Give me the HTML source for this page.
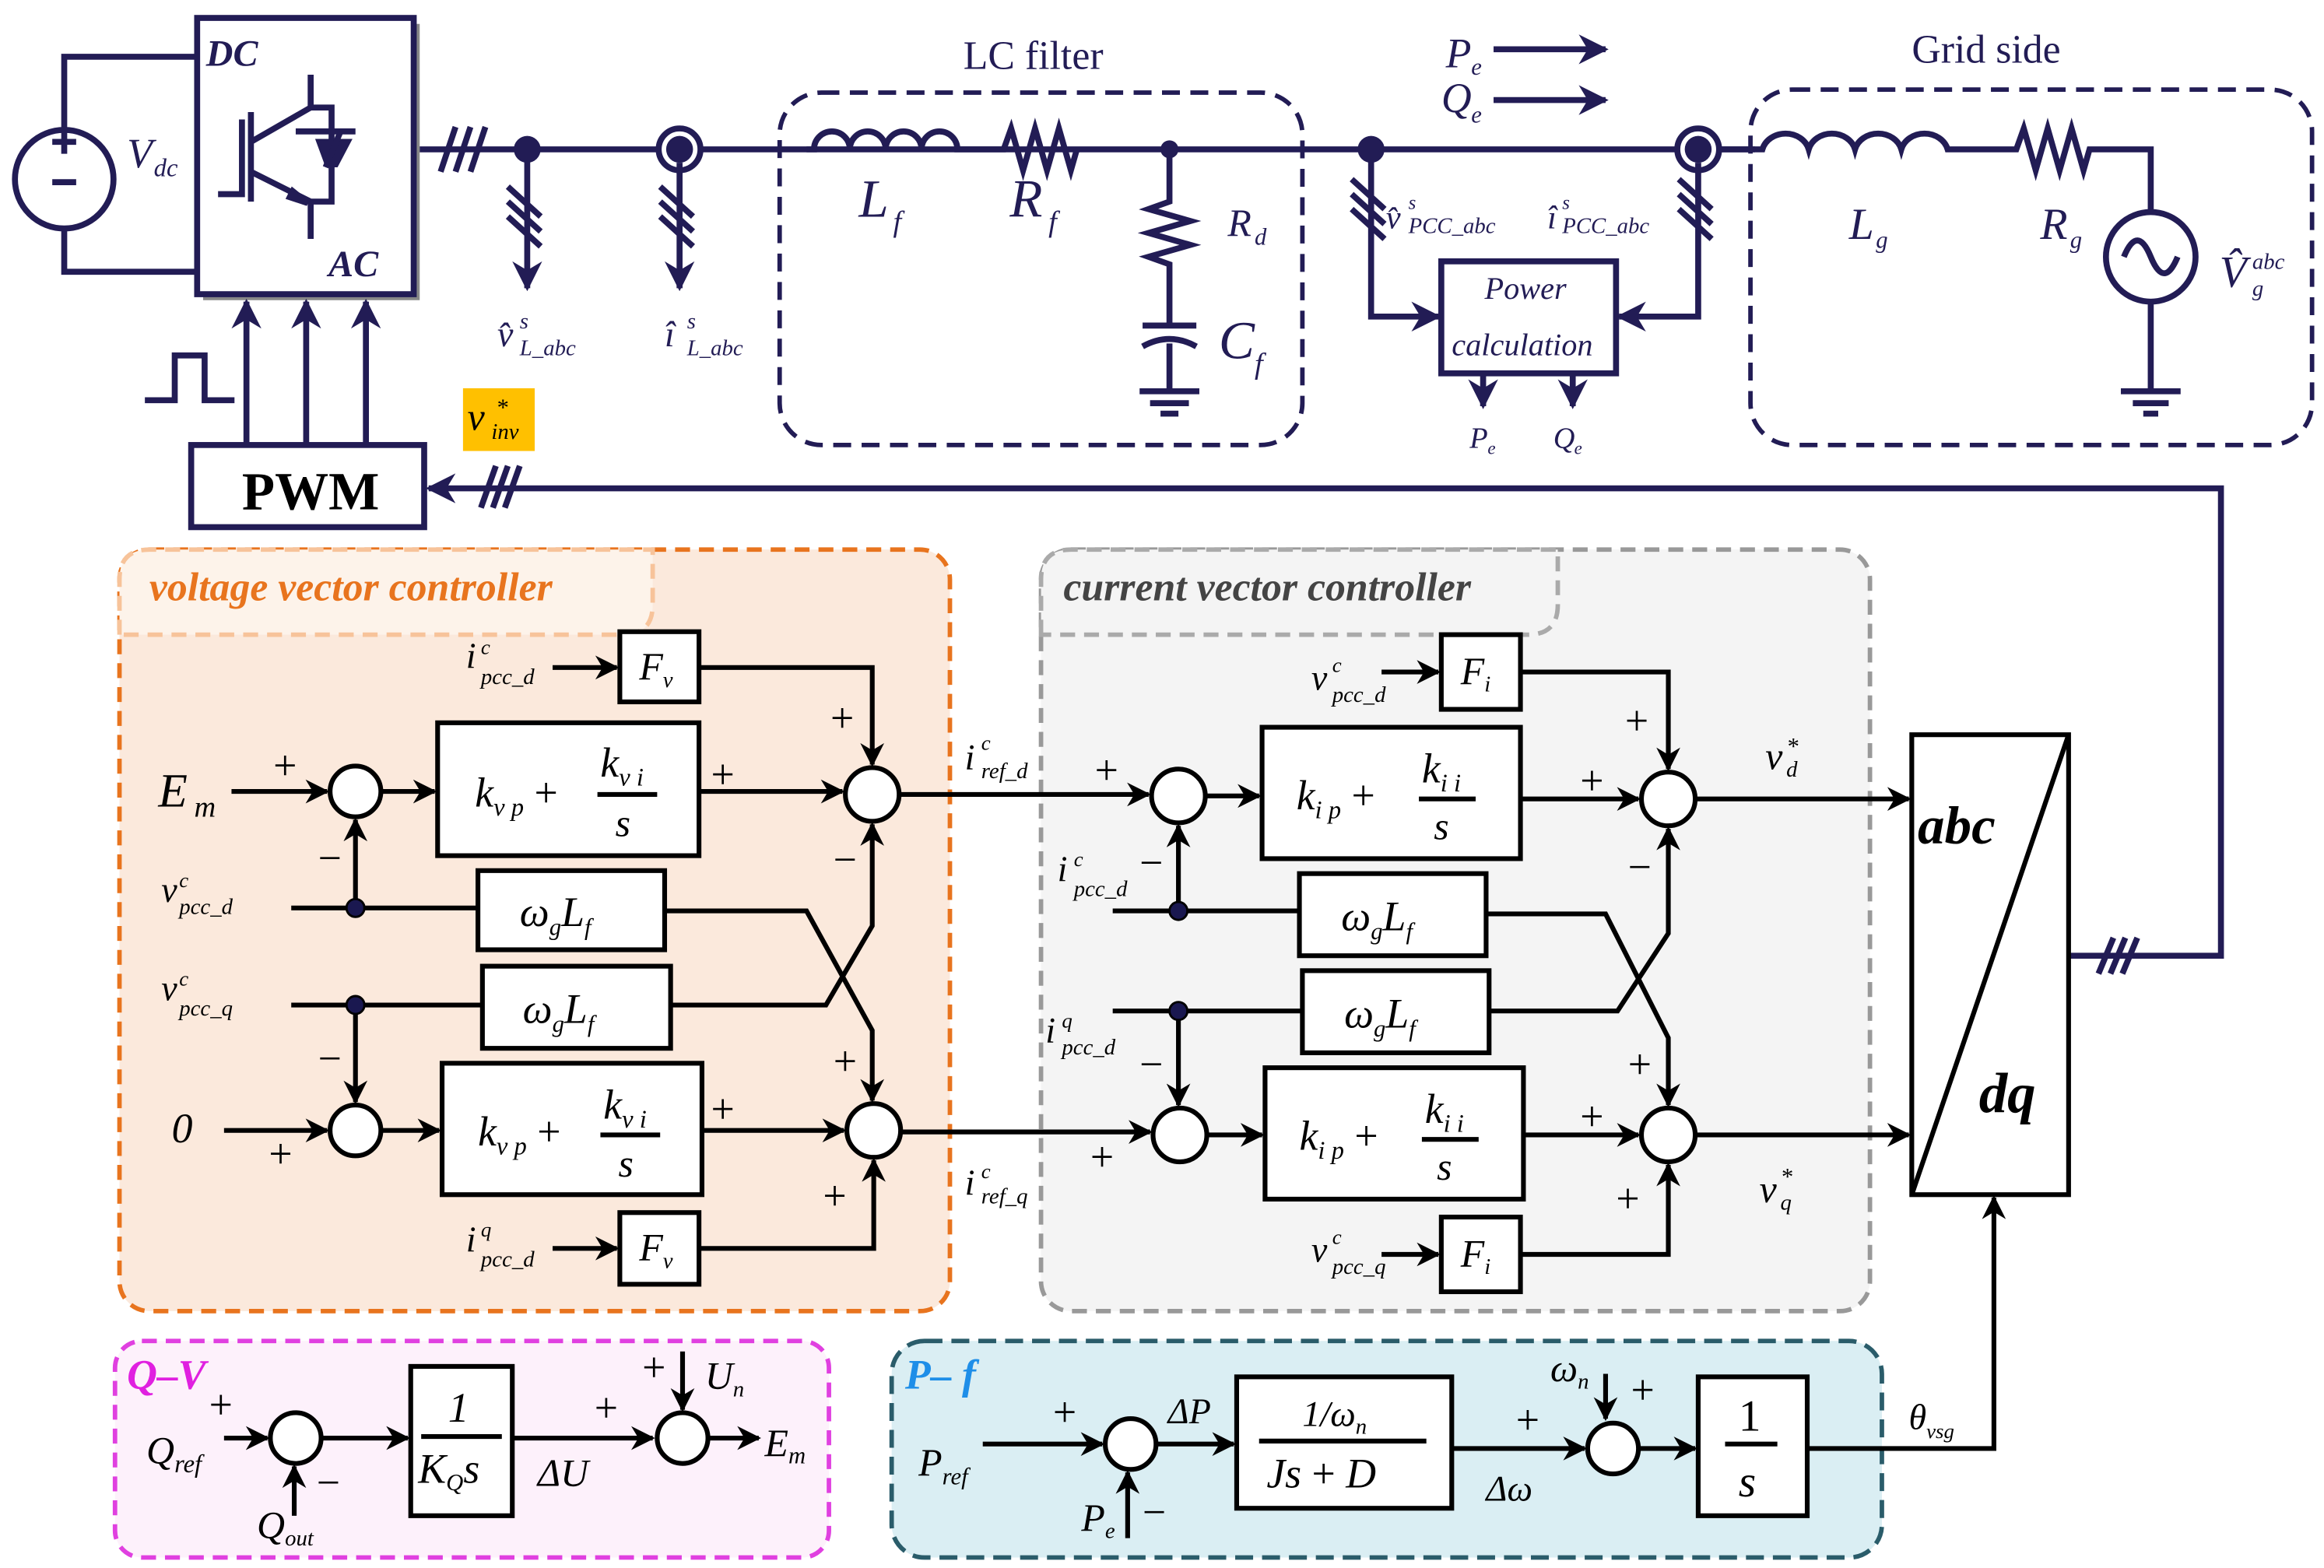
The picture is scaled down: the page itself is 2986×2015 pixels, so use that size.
<!DOCTYPE html>
<html><head><meta charset="utf-8"><style>
html,body{margin:0;padding:0;background:#fff}
svg{display:block}
text{font-family:"Liberation Serif",serif;font-style:italic}
.n{stroke:#221c55;stroke-width:4;fill:none}
.k{stroke:#000;stroke-width:3.2;fill:none}
.nt{fill:#221c55}
.w{fill:#fff !important}
.up{font-style:normal !important}
</style></head><body>
<svg width="2986" height="2015" viewBox="0 0 1556 1050" xmlns="http://www.w3.org/2000/svg">
<defs>
<marker id="a" viewBox="0 0 10 10" refX="9" refY="5" markerWidth="5" markerHeight="5" orient="auto-start-reverse"><path d="M0,0L10,5L0,10L3,5z" fill="#000"/></marker>
<marker id="an" viewBox="0 0 10 10" refX="9" refY="5" markerWidth="5" markerHeight="5" orient="auto-start-reverse"><path d="M0,0L10,5L0,10L3,5z" fill="#221c55"/></marker>
</defs>
<rect width="1556" height="1050" fill="#fff"/>

<!-- panels -->
<rect x="80" y="368" width="556" height="510" rx="20" fill="#fbe9dc" stroke="#e8741e" stroke-width="3" stroke-dasharray="10,6"/>
<path d="M80,425 L80,388 Q80,368 100,368 L437,368 L437,405 Q437,425 417,425 Z" fill="#fdf3ea" stroke="#f7c39a" stroke-width="3" stroke-dasharray="10,6"/>
<text x="100" y="402" font-size="27" font-weight="bold" fill="#e8741e">voltage vector controller</text>

<rect x="697" y="368" width="555" height="510" rx="20" fill="#f4f4f4" stroke="#999" stroke-width="3" stroke-dasharray="10,6"/>
<path d="M697,425 L697,388 Q697,368 717,368 L1043,368 L1043,405 Q1043,425 1023,425 Z" fill="#f4f4f4" stroke="#aaa" stroke-width="3" stroke-dasharray="10,6"/>
<text x="712" y="402" font-size="27" font-weight="bold" fill="#444">current vector controller</text>

<rect x="77" y="898" width="478" height="145" rx="18" fill="#fdf1fb" stroke="#e040e0" stroke-width="3" stroke-dasharray="10,6"/>
<text x="85" y="930" font-size="28" font-weight="bold" fill="#e020e0">Q–V</text>
<rect x="597" y="898" width="663" height="145" rx="22" fill="#daeef3" stroke="#2a5c6a" stroke-width="3" stroke-dasharray="12,6"/>
<text x="606" y="930" font-size="28" font-weight="bold" fill="#1e8ee8">P– f</text>

<!-- ===== top circuit ===== -->
<circle cx="43" cy="120" r="33" class="n w"/>
<path d="M43,87V38H132M43,153V182H132" class="n"/>
<path d="M35,95H51M43,87V103M35,122H51" class="n" stroke-width="3"/>
<text x="85" y="112" font-size="28" class="nt">V</text><text x="103" y="118" font-size="17" class="nt">dc</text>
<rect x="136" y="16" width="145" height="185" fill="#888"/>
<rect x="132" y="12" width="145" height="185" class="n w"/>
<text x="138" y="44" font-size="25" font-weight="bold" class="nt">DC</text>
<text x="220" y="185" font-size="25" font-weight="bold" class="nt">AC</text>
<path d="M146,130H162V80M168,75V135M168,95L208,72V50M168,115L208,135V160M208,72H222V135H208M198,88H238" class="n" stroke-width="3.5"/>
<path d="M211,93H236L226,112H218Z" fill="#221c55"/>
<path d="M218,112L228,88M196,128L206,136L194,132Z" class="n" stroke-width="2"/>
<!-- bus -->
<path d="M281,100H1175" class="n"/>
<path d="M295,115L305,85M305,115L315,85M315,115L325,85" class="n" stroke-width="3"/>
<circle cx="353" cy="100" r="9" fill="#221c55"/>
<path d="M353,100V193" class="n" marker-end="url(#an)"/>
<path d="M340,125L362,145M340,135L362,155M340,145L362,165" class="n" stroke-width="3"/>
<circle cx="455" cy="100" r="14" class="n w"/>
<circle cx="455" cy="100" r="9" fill="#221c55"/>
<path d="M455,109V193" class="n" marker-end="url(#an)"/>
<path d="M442,125L464,145M442,135L464,155M442,145L464,165" class="n" stroke-width="3"/>
<text x="333" y="232" font-size="24" class="nt">v̂</text><text x="348" y="220" font-size="15" class="nt">s</text><text x="348" y="238" font-size="15" class="nt">L_abc</text>
<text x="445" y="232" font-size="24" class="nt">î</text><text x="460" y="220" font-size="15" class="nt">s</text><text x="460" y="238" font-size="15" class="nt">L_abc</text>
<!-- LC filter -->
<rect x="522" y="62" width="350" height="236" rx="28" fill="none" stroke="#221c55" stroke-width="3" stroke-dasharray="12,7"/>
<text x="645" y="46" font-size="27" class="nt up">LC filter</text>
<path d="M540,100H545a12,12 0 0 1 24,0a12,12 0 0 1 24,0a12,12 0 0 1 24,0a12,12 0 0 1 24,0H672l5,-14l8,28l8,-28l8,28l8,-28l8,28l4,-14" fill="none" stroke="#221c55" stroke-width="4"/>
<text x="575" y="145" font-size="36" class="nt">L</text><text x="598" y="155" font-size="20" class="nt">f</text>
<text x="676" y="145" font-size="36" class="nt">R</text><text x="702" y="155" font-size="20" class="nt">f</text>
<circle cx="783" cy="100" r="6" fill="#221c55"/>
<path d="M783,100V135l-14,5l28,8l-28,8l28,8l-28,8l14,5V218M765,218H801M765,232Q783,222 801,232M783,230V262M763,262H803M770,270H796M777,277H789" class="n"/>
<text x="822" y="158" font-size="26" class="nt">R</text><text x="840" y="164" font-size="16" class="nt">d</text>
<text x="816" y="240" font-size="36" class="nt">C</text><text x="840" y="250" font-size="20" class="nt">f</text>
<!-- Pe Qe -->
<text x="968" y="45" font-size="28" class="nt">P</text><text x="985" y="50" font-size="16" class="nt">e</text>
<text x="965" y="75" font-size="28" class="nt">Q</text><text x="985" y="82" font-size="16" class="nt">e</text>
<path d="M1000,33H1075" class="n" marker-end="url(#an)"/>
<path d="M1000,67H1075" class="n" marker-end="url(#an)"/>
<circle cx="918" cy="100" r="9" fill="#221c55"/>
<path d="M918,100V212H963" class="n" marker-end="url(#an)"/>
<path d="M905,120L927,140M905,130L927,150M905,140L927,160" class="n" stroke-width="3"/>
<circle cx="1137" cy="100" r="14" class="n w"/>
<circle cx="1137" cy="100" r="9" fill="#221c55"/>
<path d="M1137,109V212H1084" class="n" marker-end="url(#an)"/>
<path d="M1124,120L1146,140M1124,130L1146,150M1124,140L1146,160" class="n" stroke-width="3"/>
<text x="928" y="153" font-size="22" class="nt">v̂</text><text x="943" y="140" font-size="13" class="nt">s</text><text x="943" y="156" font-size="15" class="nt">PCC_abc</text>
<text x="1036" y="153" font-size="22" class="nt">î</text><text x="1046" y="140" font-size="13" class="nt">s</text><text x="1046" y="156" font-size="15" class="nt">PCC_abc</text>
<rect x="965" y="175" width="117" height="75" class="n w"/>
<text x="994" y="200" font-size="21" class="nt">Power</text>
<text x="972" y="238" font-size="21" class="nt">calculation</text>
<path d="M993,250V272" class="n" stroke-width="3" marker-end="url(#an)"/>
<path d="M1053,250V272" class="n" stroke-width="3" marker-end="url(#an)"/>
<text x="984" y="300" font-size="20" class="nt">P</text><text x="996" y="304" font-size="12" class="nt">e</text>
<text x="1040" y="300" font-size="20" class="nt">Q</text><text x="1054" y="304" font-size="12" class="nt">e</text>
<!-- grid side -->
<rect x="1172" y="60" width="376" height="238" rx="28" fill="none" stroke="#221c55" stroke-width="3" stroke-dasharray="12,7"/>
<text x="1280" y="42" font-size="27" class="nt up">Grid side</text>
<path d="M1150,100H1180a16,14 0 0 1 31,0a16,14 0 0 1 31,0a16,14 0 0 1 31,0a16,14 0 0 1 31,0H1350l5,-14l8,28l8,-28l8,28l8,-28l8,28l4,-14H1440V142M1440,202V262M1420,262H1460M1428,270H1452M1435,277H1445" fill="none" stroke="#221c55" stroke-width="4"/>
<circle cx="1440" cy="172" r="30" class="n w"/>
<path d="M1422,172q9,-22 18,0t18,0" class="n" stroke-width="3"/>
<text x="1238" y="160" font-size="30" class="nt">L</text><text x="1256" y="166" font-size="16" class="nt">g</text>
<text x="1366" y="160" font-size="30" class="nt">R</text><text x="1386" y="166" font-size="16" class="nt">g</text>
<text x="1486" y="192" font-size="30" class="nt">V̂</text><text x="1508" y="180" font-size="15" class="nt">abc</text><text x="1508" y="198" font-size="15" class="nt">g</text>
<!-- PWM -->
<path d="M97,268H117V238H137V268H157" class="n" stroke-width="3.5"/>
<rect x="128" y="298" width="156" height="55" class="n w"/>
<text x="162" y="341" font-size="36" font-weight="bold" class="up">PWM</text>
<path d="M165,298V202" class="n" marker-end="url(#an)"/>
<path d="M205,298V202" class="n" marker-end="url(#an)"/>
<path d="M245,298V202" class="n" marker-end="url(#an)"/>
<rect x="310" y="260" width="48" height="42" fill="#ffc000"/>
<text x="313" y="288" font-size="26">v</text><text x="332" y="278" font-size="16">*</text><text x="329" y="294" font-size="15">inv</text>
<path d="M1385,640H1487V327H287" class="n" marker-end="url(#an)"/>
<path d="M322,340L332,312M330,340L340,312M338,340L348,312M1405,652L1415,628M1413,652L1423,628M1421,652L1431,628" class="n" stroke-width="3"/>

<!-- ===== voltage controller ===== -->
<g font-size="24">
<text x="106" y="540" font-size="32">E</text><text x="130" y="547" font-size="20">m</text>
<path d="M155,530H219" class="k" marker-end="url(#a)"/>
<circle cx="238" cy="530" r="17" class="k w"/>
<text x="183" y="522" font-size="28" class="up">+</text><text x="213" y="584" font-size="28" class="up">−</text>
<path d="M255,530H291" class="k" marker-end="url(#a)"/>
<rect x="293" y="484" width="175" height="89" class="k w"/>
<text x="318" y="540" font-size="28">k<tspan font-size="17" dy="6">v p</tspan><tspan class="up" dy="-6"> + </tspan></text>
<text x="402" y="520" font-size="28">k<tspan font-size="17" dy="6">v i</tspan></text>
<path d="M400,532H440" class="k" stroke-width="2"/><text x="412" y="560" font-size="26">s</text>
<path d="M468,530H564" class="k" marker-end="url(#a)"/>
<text x="476" y="528" font-size="28" class="up">+</text>
<circle cx="584" cy="532" r="18" class="k w"/>
<text x="312" y="447">i</text><text x="322" y="438" font-size="14">c</text><text x="322" y="458" font-size="15">pcc_d</text>
<path d="M370,447H413" class="k" marker-end="url(#a)"/>
<rect x="415" y="423" width="53" height="47" class="k w"/>
<text x="428" y="455" font-size="26">F<tspan font-size="15" dy="5">v</tspan></text>
<path d="M468,447H584V512" class="k" marker-end="url(#a)"/>
<text x="556" y="490" font-size="28" class="up">+</text>
<text x="108" y="604">v</text><text x="120" y="594" font-size="14">c</text><text x="120" y="612" font-size="15">pcc_d</text>
<path d="M195,608H320" class="k"/>
<path d="M238,608V549" class="k" marker-end="url(#a)"/>
<circle cx="238" cy="608" r="6" fill="#1a1850" stroke="#000" stroke-width="1.5"/>
<rect x="320" y="583" width="125" height="53" class="k w"/>
<text x="348" y="620" font-size="28">ω<tspan font-size="16" dy="6">g</tspan><tspan dy="-6">L</tspan><tspan font-size="16" dy="6">f</tspan></text>
<rect x="323" y="647" width="126" height="55" class="k w"/>
<text x="350" y="685" font-size="28">ω<tspan font-size="16" dy="6">g</tspan><tspan dy="-6">L</tspan><tspan font-size="16" dy="6">f</tspan></text>
<path d="M445,610H540L584,690V737" class="k" marker-end="url(#a)"/>
<path d="M449,673H553L584,620V552" class="k" marker-end="url(#a)"/>
<text x="558" y="585" font-size="28" class="up">−</text>
<text x="108" y="670">v</text><text x="120" y="660" font-size="14">c</text><text x="120" y="680" font-size="15">pcc_q</text>
<path d="M195,673H323" class="k"/>
<path d="M238,673V738" class="k" marker-end="url(#a)"/>
<circle cx="238" cy="673" r="6" fill="#1a1850" stroke="#000" stroke-width="1.5"/>
<text x="213" y="718" font-size="28" class="up">−</text>
<circle cx="238" cy="757" r="17" class="k w"/>
<text x="115" y="765" font-size="28">0</text>
<path d="M150,757H219" class="k" marker-end="url(#a)"/>
<text x="180" y="782" font-size="28" class="up">+</text>
<path d="M255,757H294" class="k" marker-end="url(#a)"/>
<rect x="296" y="712" width="174" height="88" class="k w"/>
<text x="320" y="767" font-size="28">k<tspan font-size="17" dy="6">v p</tspan><tspan class="up" dy="-6"> + </tspan></text>
<text x="404" y="749" font-size="28">k<tspan font-size="17" dy="6">v i</tspan></text>
<path d="M402,760H442" class="k" stroke-width="2"/><text x="414" y="788" font-size="26">s</text>
<path d="M470,757H565" class="k" marker-end="url(#a)"/>
<text x="476" y="752" font-size="28" class="up">+</text>
<text x="558" y="720" font-size="28" class="up">+</text>
<circle cx="585" cy="757" r="18" class="k w"/>
<text x="551" y="810" font-size="28" class="up">+</text>
<text x="312" y="838">i</text><text x="322" y="828" font-size="14">q</text><text x="322" y="848" font-size="15">pcc_d</text>
<path d="M370,836H413" class="k" marker-end="url(#a)"/>
<rect x="415" y="812" width="53" height="48" class="k w"/>
<text x="428" y="844" font-size="26">F<tspan font-size="15" dy="5">v</tspan></text>
<path d="M468,836H585V777" class="k" marker-end="url(#a)"/>
<path d="M602,532H769" class="k" marker-end="url(#a)"/>
<path d="M603,758H770" class="k" marker-end="url(#a)"/>
<text x="646" y="515">i</text><text x="657" y="502" font-size="14">c</text><text x="657" y="521" font-size="15">ref_d</text>
<text x="646" y="800">i</text><text x="657" y="789" font-size="14">c</text><text x="657" y="806" font-size="15">ref_q</text>

<!-- ===== current controller ===== -->
<circle cx="789" cy="533" r="18" class="k w"/>
<text x="733" y="525" font-size="28" class="up">+</text>
<text x="763" y="587" font-size="28" class="up">−</text>
<path d="M807,533H843" class="k" marker-end="url(#a)"/>
<rect x="845" y="487" width="173" height="88" class="k w"/>
<text x="868" y="542" font-size="28">k<tspan font-size="17" dy="6">i p</tspan><tspan class="up" dy="-6"> + </tspan></text>
<text x="952" y="524" font-size="28">k<tspan font-size="17" dy="6">i i</tspan></text>
<path d="M950,535H988" class="k" stroke-width="2"/><text x="960" y="562" font-size="26">s</text>
<path d="M1018,535H1097" class="k" marker-end="url(#a)"/>
<text x="1058" y="532" font-size="28" class="up">+</text>
<circle cx="1117" cy="535" r="18" class="k w"/>
<text x="878" y="462">v</text><text x="892" y="450" font-size="14">c</text><text x="892" y="470" font-size="15">pcc_d</text>
<path d="M925,450H963" class="k" marker-end="url(#a)"/>
<rect x="965" y="425" width="53" height="50" class="k w"/>
<text x="978" y="458" font-size="26">F<tspan font-size="15" dy="5">i</tspan></text>
<path d="M1018,450H1117V515" class="k" marker-end="url(#a)"/>
<text x="1088" y="492" font-size="28" class="up">+</text>
<text x="708" y="590">i</text><text x="719" y="580" font-size="14">c</text><text x="719" y="600" font-size="15">pcc_d</text>
<path d="M745,610H870" class="k"/>
<path d="M789,610V553" class="k" marker-end="url(#a)"/>
<circle cx="789" cy="610" r="6" fill="#1a1850" stroke="#000" stroke-width="1.5"/>
<rect x="870" y="585" width="125" height="55" class="k w"/>
<text x="898" y="623" font-size="28">ω<tspan font-size="16" dy="6">g</tspan><tspan dy="-6">L</tspan><tspan font-size="16" dy="6">f</tspan></text>
<rect x="872" y="650" width="125" height="55" class="k w"/>
<text x="900" y="688" font-size="28">ω<tspan font-size="16" dy="6">g</tspan><tspan dy="-6">L</tspan><tspan font-size="16" dy="6">f</tspan></text>
<path d="M995,612H1075L1117,695V740" class="k" marker-end="url(#a)"/>
<path d="M997,677H1083L1117,625V555" class="k" marker-end="url(#a)"/>
<text x="1090" y="590" font-size="28" class="up">−</text>
<text x="700" y="698">i</text><text x="711" y="688" font-size="14">q</text><text x="711" y="706" font-size="15">pcc_d</text>
<path d="M745,677H872" class="k"/>
<path d="M789,677V740" class="k" marker-end="url(#a)"/>
<circle cx="789" cy="677" r="6" fill="#1a1850" stroke="#000" stroke-width="1.5"/>
<text x="763" y="722" font-size="28" class="up">−</text>
<circle cx="790" cy="760" r="18" class="k w"/>
<text x="730" y="784" font-size="28" class="up">+</text>
<path d="M808,760H845" class="k" marker-end="url(#a)"/>
<rect x="847" y="715" width="173" height="88" class="k w"/>
<text x="870" y="770" font-size="28">k<tspan font-size="17" dy="6">i p</tspan><tspan class="up" dy="-6"> + </tspan></text>
<text x="954" y="752" font-size="28">k<tspan font-size="17" dy="6">i i</tspan></text>
<path d="M952,763H990" class="k" stroke-width="2"/><text x="962" y="790" font-size="26">s</text>
<path d="M1020,760H1097" class="k" marker-end="url(#a)"/>
<text x="1058" y="757" font-size="28" class="up">+</text>
<text x="1090" y="722" font-size="28" class="up">+</text>
<circle cx="1117" cy="760" r="18" class="k w"/>
<text x="1082" y="812" font-size="28" class="up">+</text>
<text x="878" y="845">v</text><text x="892" y="833" font-size="14">c</text><text x="892" y="853" font-size="15">pcc_q</text>
<path d="M925,840H963" class="k" marker-end="url(#a)"/>
<rect x="965" y="815" width="53" height="50" class="k w"/>
<text x="978" y="848" font-size="26">F<tspan font-size="15" dy="5">i</tspan></text>
<path d="M1018,840H1117V780" class="k" marker-end="url(#a)"/>
<path d="M1135,535H1278" class="k" marker-end="url(#a)"/>
<path d="M1135,760H1278" class="k" marker-end="url(#a)"/>
<text x="1182" y="515" font-size="26">v</text><text x="1196" y="505" font-size="16">*</text><text x="1196" y="520" font-size="15">d</text>
<text x="1178" y="805" font-size="26">v</text><text x="1192" y="793" font-size="16">*</text><text x="1192" y="810" font-size="15">q</text>
<!-- abc/dq -->
<rect x="1280" y="492" width="105" height="308" class="k w" stroke-width="4"/>
<path d="M1280,800L1385,492" class="k"/>
<text x="1284" y="565" font-size="36" font-weight="bold">abc</text>
<text x="1325" y="745" font-size="38" font-weight="bold">dq</text>
<path d="M1210,970H1335V802" class="k" marker-end="url(#a)"/>
<text x="1278" y="957" font-size="24">θ<tspan font-size="14" dy="6">vsg</tspan></text>

<!-- ===== Q-V ===== -->
<text x="98" y="980" font-size="26">Q<tspan font-size="17" dy="6">ref</tspan></text>
<path d="M150,963H179" class="k" marker-end="url(#a)"/>
<circle cx="198" cy="963" r="17" class="k w"/>
<text x="140" y="950" font-size="28" class="up">+</text>
<path d="M197,1015V982" class="k" marker-end="url(#a)"/>
<text x="172" y="1030" font-size="26">Q<tspan font-size="15" dy="5">out</tspan></text>
<text x="212" y="1002" font-size="28" class="up">−</text>
<path d="M215,963H273" class="k" marker-end="url(#a)"/>
<rect x="275" y="915" width="68" height="100" class="k w"/>
<text x="300" y="952" font-size="28">1</text>
<path d="M282,962H336" class="k" stroke-width="2"/>
<text x="280" y="993" font-size="28">K<tspan font-size="16" dy="5">Q</tspan><tspan dy="-5">s</tspan></text>
<path d="M343,963H437" class="k" marker-end="url(#a)"/>
<text x="398" y="952" font-size="28" class="up">+</text>
<text x="360" y="995" font-size="26">ΔU</text>
<circle cx="457" cy="963" r="17" class="k w"/>
<path d="M457,905V944" class="k" marker-end="url(#a)"/>
<text x="430" y="925" font-size="28" class="up">+</text>
<text x="472" y="930" font-size="26">U<tspan font-size="15" dy="5">n</tspan></text>
<path d="M474,963H508" class="k" marker-end="url(#a)"/>
<text x="512" y="975" font-size="26">E<tspan font-size="16" dy="5">m</tspan></text>

<!-- ===== P-f ===== -->
<text x="615" y="988" font-size="26">P<tspan font-size="16" dy="6">ref</tspan></text>
<path d="M658,967H738" class="k" marker-end="url(#a)"/>
<text x="705" y="955" font-size="28" class="up">+</text>
<circle cx="757" cy="967" r="17" class="k w"/>
<path d="M755,1030V986" class="k" marker-end="url(#a)"/>
<text x="724" y="1025" font-size="26">P<tspan font-size="15" dy="5">e</tspan></text>
<text x="765" y="1022" font-size="28" class="up">−</text>
<path d="M774,967H826" class="k" marker-end="url(#a)"/>
<text x="782" y="953" font-size="24">ΔP</text>
<rect x="828" y="922" width="144" height="88" class="k w"/>
<text x="872" y="955" font-size="24">1/ω<tspan font-size="15" dy="5">n</tspan></text>
<path d="M843,965H955" class="k" stroke-width="2"/>
<text x="848" y="996" font-size="28">Js<tspan class="up"> + </tspan>D</text>
<path d="M972,970H1061" class="k" marker-end="url(#a)"/>
<text x="1015" y="960" font-size="28" class="up">+</text>
<text x="995" y="1005" font-size="24">Δω</text>
<circle cx="1080" cy="970" r="17" class="k w"/>
<path d="M1075,920V950" class="k" marker-end="url(#a)"/>
<text x="1038" y="925" font-size="26">ω<tspan font-size="15" dy="5">n</tspan></text>
<text x="1092" y="940" font-size="28" class="up">+</text>
<path d="M1097,970H1135" class="k" marker-end="url(#a)"/>
<rect x="1137" y="922" width="73" height="93" class="k w"/>
<text x="1164" y="958" font-size="30" class="up">1</text>
<path d="M1155,967H1190" class="k" stroke-width="2"/>
<text x="1164" y="1002" font-size="30">s</text>
</g>
</svg>
</body></html>
